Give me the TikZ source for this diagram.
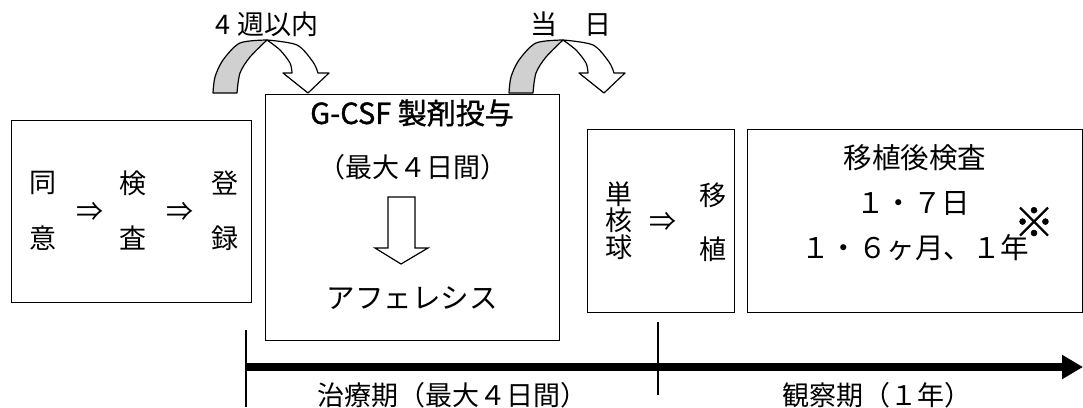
\documentclass[tikz,border=0pt]{standalone}
\usepackage{fontspec}
\setmainfont{Noto Sans CJK JP}
\newfontfamily\medfont{Noto Sans CJK JP}[FakeBold=1.2]
\usetikzlibrary{arrows.meta}
\definecolor{bandgray}{RGB}{208,208,208}
\tikzset{
  box/.style={draw=black, line width=1.3pt, anchor=north west, inner sep=0pt},
  txt/.style={inner sep=0pt, font=\fontsize{27}{30}\selectfont},
  txtl/.style={inner sep=0pt, font=\fontsize{28.5}{32}\selectfont},
  big/.style={inner sep=0pt, font=\fontsize{29}{32}\selectfont\medfont},
  note/.style={inner sep=0pt, font=\fontsize{40}{44}\selectfont\medfont},
  tick/.style={line width=1.1pt},
  axis/.style={line width=8pt, -{Triangle[length=21pt,width=23pt]}},
  curvarr/.pic={
    \filldraw[fill=bandgray, draw=black, line width=1.2pt, line join=round]
      plot[smooth] coordinates {(-54,53) (-52,37) (-44,20) (-27,3) (0,0)}
      -- plot[smooth] coordinates {(0,0) (-17,17) (-27,33) (-30,53)} -- cycle;
    \filldraw[fill=white, draw=black, line width=1.2pt, line join=round]
      plot[smooth] coordinates {(0,0) (30,5) (46,22) (51,33)}
      -- (62,33) -- (41,53) -- (16,33) -- (25,33)
      -- plot[smooth] coordinates {(25,33) (23,23) (13,10) (0,0)} -- cycle;
  }
}
\begin{document}
\begin{tikzpicture}[x=1pt,y=-1pt]
\useasboundingbox (0,0) rectangle (1083,407);
% boxes
\node[box, minimum width=240pt, minimum height=182pt] (b1) at (11,120) {};
\node[box, minimum width=294pt, minimum height=246pt] (b2) at (265,94) {};
\node[box, minimum width=147pt, minimum height=183pt] (b3) at (587,129) {};
\node[box, minimum width=335pt, minimum height=183pt] (b4) at (747,129) {};
% curved arrows
\pic (ca1) at (267,40) {curvarr};
\pic (ca2) at (563,40) {curvarr};
\node[txt] (t1) at (267,24) {4 週以内};
\node[txt] (t2) at (571,24) {当　日};
% box1 text
\node[txt] (k1) at (43,183) {同};
\node[txt] (k2) at (43,238) {意};
\node[txt] (r1) at (90,212) {⇒};
\node[txt] (k3) at (133,183) {検};
\node[txt] (k4) at (133,238) {査};
\node[txt] (r2) at (180,212) {⇒};
\node[txt] (k5) at (225,183) {登};
\node[txt] (k6) at (225,238) {録};
% box2 text
\node[big] (g1) at (412,113) {G-CSF 製剤投与};
\node[txt] (g2) at (413,167) {（最大４日間）};
\node[txtl] (g3) at (412,298) {アフェレシス};
\coordinate (da) at (401,197);
\filldraw[fill=white, draw=black, line width=1.2pt, line join=miter]
  (388,197) -- (415,197) -- (415,248) -- (428,248) -- (401,264) -- (375,248) -- (388,248) -- cycle;
% box3 text
\node[txt] (m1) at (619,194) {単};
\node[txt] (m2) at (619,220) {核};
\node[txt] (m3) at (619,247) {球};
\node[txt] (m4) at (663,222) {⇒};
\node[txt] (m5) at (713,195) {移};
\node[txt] (m6) at (713,249) {植};
% box4 text
\node[txtl] (p1) at (915,158) {移植後検査};
\node[txtl] (p2) at (913,203) {１・７日};
\node[txtl] (p3) at (915,248) {１・６ヶ月、１年};
\node[note] (p4) at (1034,222) {※};
% axis
\coordinate (a0) at (246,367);
\coordinate (a1) at (1083,367);
\draw[axis] (a0) -- (a1);
\coordinate (tk1a) at (246,330);
\coordinate (tk1b) at (246,407);
\coordinate (tk2a) at (658,322);
\coordinate (tk2b) at (658,395);
\draw[tick] (tk1a) -- (tk1b);
\draw[tick] (tk2a) -- (tk2b);
\node[txt] (l1) at (452,395) {治療期（最大４日間）};
\node[txt] (l2) at (877,395) {観察期（１年）};
\end{tikzpicture}
\end{document}
